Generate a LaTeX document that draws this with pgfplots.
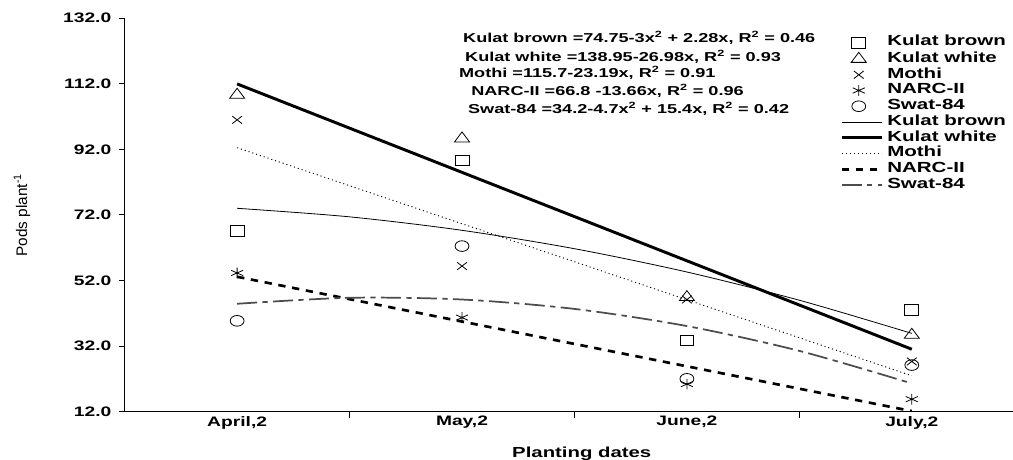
\documentclass[border=0pt]{standalone}
\usepackage{fontspec}
\setmainfont{Liberation Sans}[FakeStretch=1.4]
\newfontfamily\plainfont{Liberation Sans}
\usepackage{pgfplots}
\pgfplotsset{compat=1.18}
\usetikzlibrary{calc}
\pgfplotsset{
  lineleg/.style={legend image code/.code={\draw[##1] (0pt,0pt) -- (30pt,0pt);}},
  markleg/.style={legend image code/.code={\draw[##1] plot coordinates {(12.75pt,0pt)};}},
}

\begin{document}
\begin{tikzpicture}
\begin{axis}[
  name=ax,
  scale only axis,
  width=666.2pt, height=295pt,
  xmin=0.5, xmax=4.45, ymin=12, ymax=132,
  axis x line*=bottom, axis y line*=left,
  axis line style={line width=0.9pt, -},
  xtick={1.5,2.5,3.5},
  xticklabels={},
  extra x ticks={1,2,3,4},
  extra x tick labels={{April,2},{May,2},{June,2},{July,2}},
  extra x tick style={major tick length=0pt},
  ytick={12,32,...,132},
  yticklabels={12.0,32.0,52.0,72.0,92.0,112.0,132.0},
  tick align=outside,
  major tick length=4.5pt,
  tick style={line width=0.8pt, black},
  ticklabel style={font=\fontsize{10.3}{12}\selectfont\bfseries},
  yticklabel style={xshift=-2pt},
  lineleg,
  legend style={at={(0.8053,0.954)}, anchor=north west, draw=none, fill=none,
    font=\fontsize{11}{12}\selectfont\bfseries, inner sep=0pt,
    row sep=2.8pt, column sep=3pt,
    nodes={inner sep=0pt, text height=7pt, text depth=2pt}},
  legend cell align=left,
  every axis plot/.append style={black},
]

% observed values
\addplot[only marks, mark=square, mark size=4pt, mark options={xscale=1.3, line width=0.6pt}, markleg]
  coordinates {(1,67.1) (2,88.6) (3,33.7) (4,43.0)};
\addplot[only marks, mark=triangle, mark size=5pt, mark options={xscale=1.3, line width=0.6pt}, markleg]
  coordinates {(1,108.6) (2,95.3) (3,46.9) (4,35.4)};
\addplot[only marks, mark=x, mark size=4pt, mark options={xscale=1.3, line width=0.6pt}, markleg]
  coordinates {(1,101.0) (2,56.4) (3,46.2) (4,27.3)};
\addplot[only marks, mark=asterisk, mark size=4pt, mark options={xscale=1.3, line width=0.6pt}, markleg]
  coordinates {(1,54.3) (2,40.7) (3,20.4) (4,15.8)};
\addplot[only marks, mark=o, mark size=4pt, mark options={xscale=1.3, line width=0.6pt}, markleg]
  coordinates {(1,39.7) (2,62.5) (3,22.0) (4,26.2)};

% fitted trends
\addplot[no marks, smooth, line width=0.6pt]
  coordinates {(1,74.03) (1.5,71.42) (2,67.31) (2.5,61.70) (3,54.59) (3.5,45.98) (4,35.87)};
\addplot[no marks, line width=2.2pt]
  coordinates {(1,111.97) (4,31.03)};
\addplot[no marks, line width=0.7pt, dash pattern=on 0.8pt off 2.2pt]
  coordinates {(1,92.51) (4,22.94)};
\addplot[no marks, line width=2pt, dash pattern=on 5.5pt off 5pt]
  coordinates {(1,53.14) (4,12.16)};
\addplot[no marks, smooth, line width=1.3pt, black!70, dash pattern=on 15pt off 4pt on 4pt off 4pt]
  coordinates {(1,44.9) (1.5,46.73) (2,46.2) (2.5,43.33) (3,38.1) (3.5,30.53) (4,20.6)};

\legend{Kulat brown, Kulat white, Mothi, NARC-II, Swat-84,
        Kulat brown, Kulat white, Mothi, NARC-II, Swat-84}

\begin{scope}[every node/.style={anchor=west, inner sep=0pt, font=\fontsize{9.7}{12}\selectfont\bfseries}]
\node at (axis cs:2.004,125.9) {Kulat brown =74.75-3x\textsuperscript{2} + 2.28x, R\textsuperscript{2} = 0.46};
\node at (axis cs:2.013,120.3) {Kulat white =138.95-26.98x, R\textsuperscript{2} = 0.93};
\node at (axis cs:1.986,115.3) {Mothi =115.7-23.19x, R\textsuperscript{2} = 0.91};
\node at (axis cs:2.040,109.8) {NARC-II =66.8 -13.66x, R\textsuperscript{2} = 0.96};
\node at (axis cs:2.026,104.3) {Swat-84 =34.2-4.7x\textsuperscript{2} + 15.4x, R\textsuperscript{2} = 0.42};
\end{scope}
\end{axis}

\node[rotate=90, inner sep=0pt, font=\plainfont\fontsize{11.5}{12}\selectfont]
  at ($(ax.south west)!0.5!(ax.north west)+(-77pt,0)$) {Pods plant\textsuperscript{-1}};
\node[anchor=base, inner sep=0pt, font=\fontsize{10.9}{12}\selectfont\bfseries]
  at ($(ax.south west)+(342.8pt,-34.7pt)$) {Planting dates};

\pgfresetboundingbox
\path[use as bounding box] ($(ax.south west)+(-93.5pt,-36.2pt)$) rectangle ($(ax.north east)+(0pt,13.7pt)$);
\end{tikzpicture}
\end{document}
